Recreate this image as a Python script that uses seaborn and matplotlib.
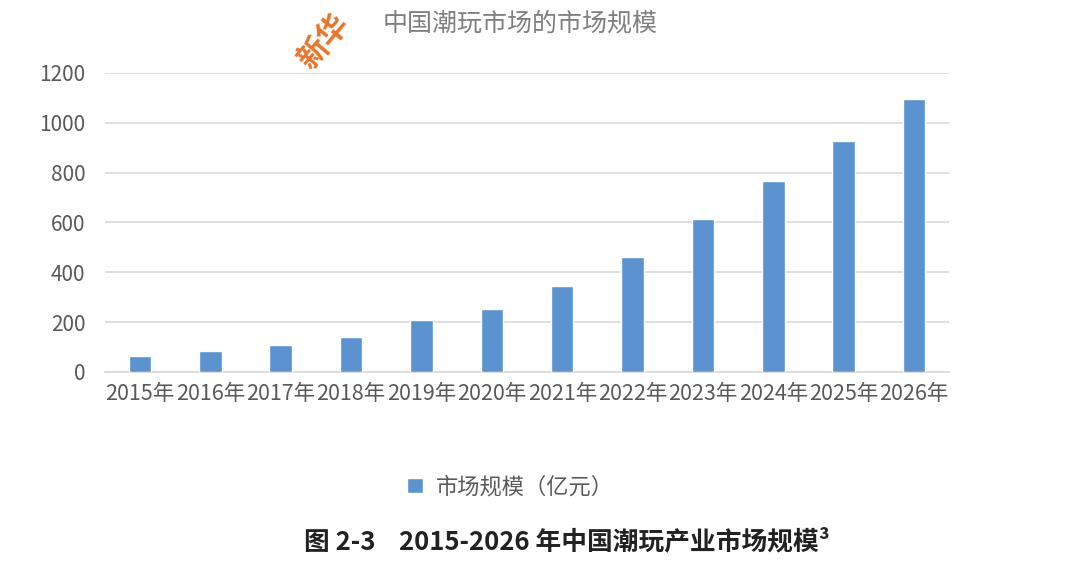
import matplotlib
matplotlib.use("Agg")
import matplotlib.pyplot as plt
import seaborn as sns
import pandas as pd

years = ["2015年", "2016年", "2017年", "2018年", "2019年", "2020年",
         "2021年", "2022年", "2023年", "2024年", "2025年", "2026年"]
market_size = [63, 84, 110, 141, 208, 252, 343, 463, 613, 765, 928, 1097]
series_name = "市场规模（亿元）"
y_ticks = [0, 200, 400, 600, 800, 1000, 1200]
chart_title = "中国潮玩市场的市场规模"
caption = "图 2-3    2015-2026 年中国潮玩产业市场规模³"
watermark = "新华"

sns.set_theme(style="white")
plt.rcParams['font.family'] = ['Noto Sans CJK SC', 'DejaVu Sans']

df = pd.DataFrame({"year": years, "value": market_size})

fig = plt.figure(figsize=(10.8, 5.61), dpi=100)
ax = fig.add_axes([0.097, 0.337, 0.782, 0.533])

sns.barplot(data=df, x="year", y="value", color="#5b93d1", width=0.32,
            saturation=1, label=series_name, ax=ax, zorder=3)
if ax.get_legend() is not None:
    ax.get_legend().remove()

ax.set_ylim(0, 1200)
ax.set_yticks(y_ticks)
ax.set_yticklabels([str(t) for t in y_ticks])
ax.yaxis.grid(True, color="#d9d9d9", linewidth=1.2, zorder=0)
ax.set_axisbelow(True)
for s in ["top", "right", "left"]:
    ax.spines[s].set_visible(False)
ax.spines["bottom"].set_color("#d9d9d9")
ax.spines["bottom"].set_linewidth(1.2)
ax.tick_params(axis="both", length=0, colors="#595959", labelsize=15)
ax.tick_params(axis="x", pad=8)
ax.tick_params(axis="y", pad=14)
ax.set_xlabel("")
ax.set_ylabel("")
for lab in ax.get_xticklabels():
    lab.set_fontsize(15.5)

fig.text(0.482, 0.958, chart_title, ha="center", va="center",
         fontsize=18, color="#7f7f7f")
fig.text(0.300, 0.925, watermark, ha="center", va="center",
         fontsize=22, color="#e8742a", fontweight="bold", rotation=50)

handles, labels = ax.get_legend_handles_labels()
fig.legend(handles, labels, loc="center", bbox_to_anchor=(0.473, 0.132),
           frameon=False, fontsize=16, handlelength=0.7, handleheight=0.7,
           handletextpad=0.6, labelcolor="#595959")

fig.text(0.525, 0.035, caption, ha="center", va="center",
         fontsize=18.5, color="#222222", fontweight="bold")

fig.savefig("out.png", dpi=100, facecolor="white")
